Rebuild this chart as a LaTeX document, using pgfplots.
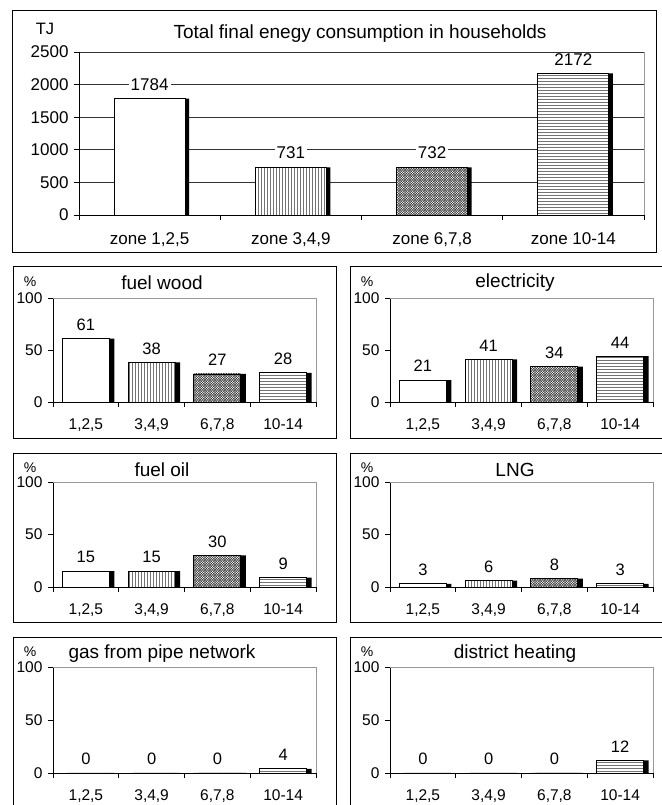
\documentclass[border=0pt]{standalone}
\usepackage{fontspec}
\setmainfont{Liberation Sans}
\usepackage{pgfplots}
\pgfplotsset{compat=1.18}
\usetikzlibrary{patterns}

\pgfdeclarepatternformonly{dcross}{\pgfqpoint{-1pt}{-1pt}}{\pgfqpoint{3.5pt}{3.5pt}}{\pgfqpoint{2.5pt}{2.5pt}}{%
  \pgfsetlinewidth{0.5pt}%
  \pgfpathmoveto{\pgfqpoint{2.6pt}{0pt}}\pgfpathlineto{\pgfqpoint{0pt}{2.6pt}}%
  \pgfpathmoveto{\pgfqpoint{0pt}{0pt}}\pgfpathlineto{\pgfqpoint{2.6pt}{2.6pt}}%
  \pgfusepath{stroke}}

\pgfplotsset{
  common/.style={
    scale only axis, anchor=south west,
    xmin=-0.5, xmax=3.5, ymin=0,
    axis x line*=bottom, axis y line*=left,
    axis line style={line width=0.8pt, black},
    tick align=outside,
    xtick={0,1,2,3},
    major x tick style={draw=none},
    minor xtick={-0.5,0.5,1.5,2.5,3.5},
    tick style={black, line width=0.8pt},
    major tick length=5pt, minor tick length=5pt,
    /pgf/number format/assume math mode=true,
    /pgf/number format/1000 sep={},
    ybar, clip mode=individual,
  },
  p0/.style={draw=black, line width=0.8pt, fill=white, bar shift=0pt},
  p1/.style={draw=black, line width=0.8pt, preaction={fill=white}, pattern=vertical lines, pattern color=black!55, bar shift=0pt},
  p2/.style={draw=black, line width=0.8pt, preaction={fill=white}, pattern=dcross, pattern color=black!80, bar shift=0pt},
  p3/.style={draw=black, line width=0.8pt, preaction={fill=white}, pattern=horizontal lines, pattern color=black!55, bar shift=0pt},
  small/.style={common,
    width=263pt, ymax=100, ytick={0,50,100},
    xticklabels={{1,2,5},{3,4,9},{6,7,8},{10-14}},
    ticklabel style={font=\fontsize{15.5}{17}\selectfont},
    xticklabel style={yshift=-8pt},
    yticklabel style={xshift=-2pt},
    bar width=47pt,
  },
  shadowS/.style={fill=black, draw=none, bar shift=5pt},
  labS/.style={draw=none, fill=none, bar shift=0pt, nodes near coords,
    every node near coord/.append style={font=\fontsize{16.5}{18}\selectfont, inner sep=0pt, yshift=8pt, text=black}},
}

\newcommand{\smallchart}[7]{%
  \begin{axis}[small, at={(#1,#2)}, height=#3pt]
    \addplot[shadowS] coordinates {(0,#4) (1,#5) (2,#6) (3,#7)};
    \addplot[p0] coordinates {(0,#4)};
    \addplot[p1] coordinates {(1,#5)};
    \addplot[p2] coordinates {(2,#6)};
    \addplot[p3] coordinates {(3,#7)};
    \addplot[labS] coordinates {(0,#4) (1,#5) (2,#6) (3,#7)};
    \draw[black!40, line width=0.8pt] (rel axis cs:0,1) -- (rel axis cs:1,1) -- (rel axis cs:1,0);
  \end{axis}}

\begin{document}
\begin{tikzpicture}
\useasboundingbox (0pt,0pt) rectangle (661pt,805pt);
% frames
\draw[line width=1pt] (12pt,552pt) rectangle (656pt,794pt);
\draw[line width=1pt] (13pt,366pt) rectangle (336pt,538pt);
\draw[line width=1pt] (350pt,366pt) rectangle (673pt,538pt);
\draw[line width=1pt] (13pt,182pt) rectangle (336pt,351pt);
\draw[line width=1pt] (350pt,182pt) rectangle (673pt,351pt);
\draw[line width=1pt] (13pt,-8pt) rectangle (336pt,167pt);
\draw[line width=1pt] (350pt,-8pt) rectangle (673pt,167pt);

% top chart
\node[font=\fontsize{16.5}{18}\selectfont] at (45pt,776pt) {TJ};
\node[font=\fontsize{19}{22}\selectfont] at (360pt,771pt) {Total final enegy consumption in households};
\begin{axis}[common, at={(79pt,590pt)}, width=565pt, height=163pt,
  ymax=2500, ytick={0,500,1000,1500,2000,2500},
  ymajorgrids, major grid style={black!80, line width=0.7pt},
  xticklabels={{zone 1,2,5},{zone 3,4,9},{zone 6,7,8},{zone 10-14}},
  ticklabel style={font=\fontsize{17}{19}\selectfont},
  xticklabel style={yshift=-9pt},
  yticklabel style={xshift=-2pt},
  bar width=71pt]
  \addplot[fill=black, draw=none, bar shift=4pt] coordinates {(0,1784) (1,731) (2,732) (3,2172)};
  \addplot[p0] coordinates {(0,1784)};
  \addplot[p1] coordinates {(1,731)};
  \addplot[p2] coordinates {(2,732)};
  \addplot[p3] coordinates {(3,2172)};
  \addplot[draw=none, fill=none, bar shift=0pt, nodes near coords,
    every node near coord/.append style={font=\fontsize{17}{19}\selectfont, fill=white, text=black, inner xsep=2pt, inner ysep=0pt, yshift=8pt}]
    coordinates {(0,1784) (1,731) (2,732) (3,2172)};
  \draw[black!40, line width=0.8pt] (rel axis cs:1,0) -- (rel axis cs:1,1);
\end{axis}

% small chart titles
\def\tf{\fontsize{19}{22}\selectfont}
\def\pf{\fontsize{14}{16}\selectfont}
\node[font=\pf] at (30pt,523pt) {\%};
\node[font=\tf] at (162pt,522pt) {fuel wood};
\node[font=\pf] at (367pt,523pt) {\%};
\node[font=\tf] at (515pt,522pt) {electricity};
\node[font=\pf] at (30pt,337pt) {\%};
\node[font=\tf] at (162pt,335pt) {fuel oil};
\node[font=\pf] at (367pt,337pt) {\%};
\node[font=\tf] at (515pt,335pt) {LNG};
\node[font=\pf] at (30pt,153pt) {\%};
\node[font=\tf] at (162pt,151pt) {gas from pipe network};
\node[font=\pf] at (367pt,153pt) {\%};
\node[font=\tf] at (515pt,151pt) {district heating};

\smallchart{53pt}{403pt}{104}{61}{38}{27}{28}
\smallchart{390pt}{403pt}{104}{21}{41}{34}{44}
\smallchart{53pt}{218pt}{105}{15}{15}{30}{9}
\smallchart{390pt}{218pt}{105}{3}{6}{8}{3}
\smallchart{53pt}{32pt}{106}{0}{0}{0}{4}
\smallchart{390pt}{32pt}{106}{0}{0}{0}{12}
\end{tikzpicture}
\end{document}
